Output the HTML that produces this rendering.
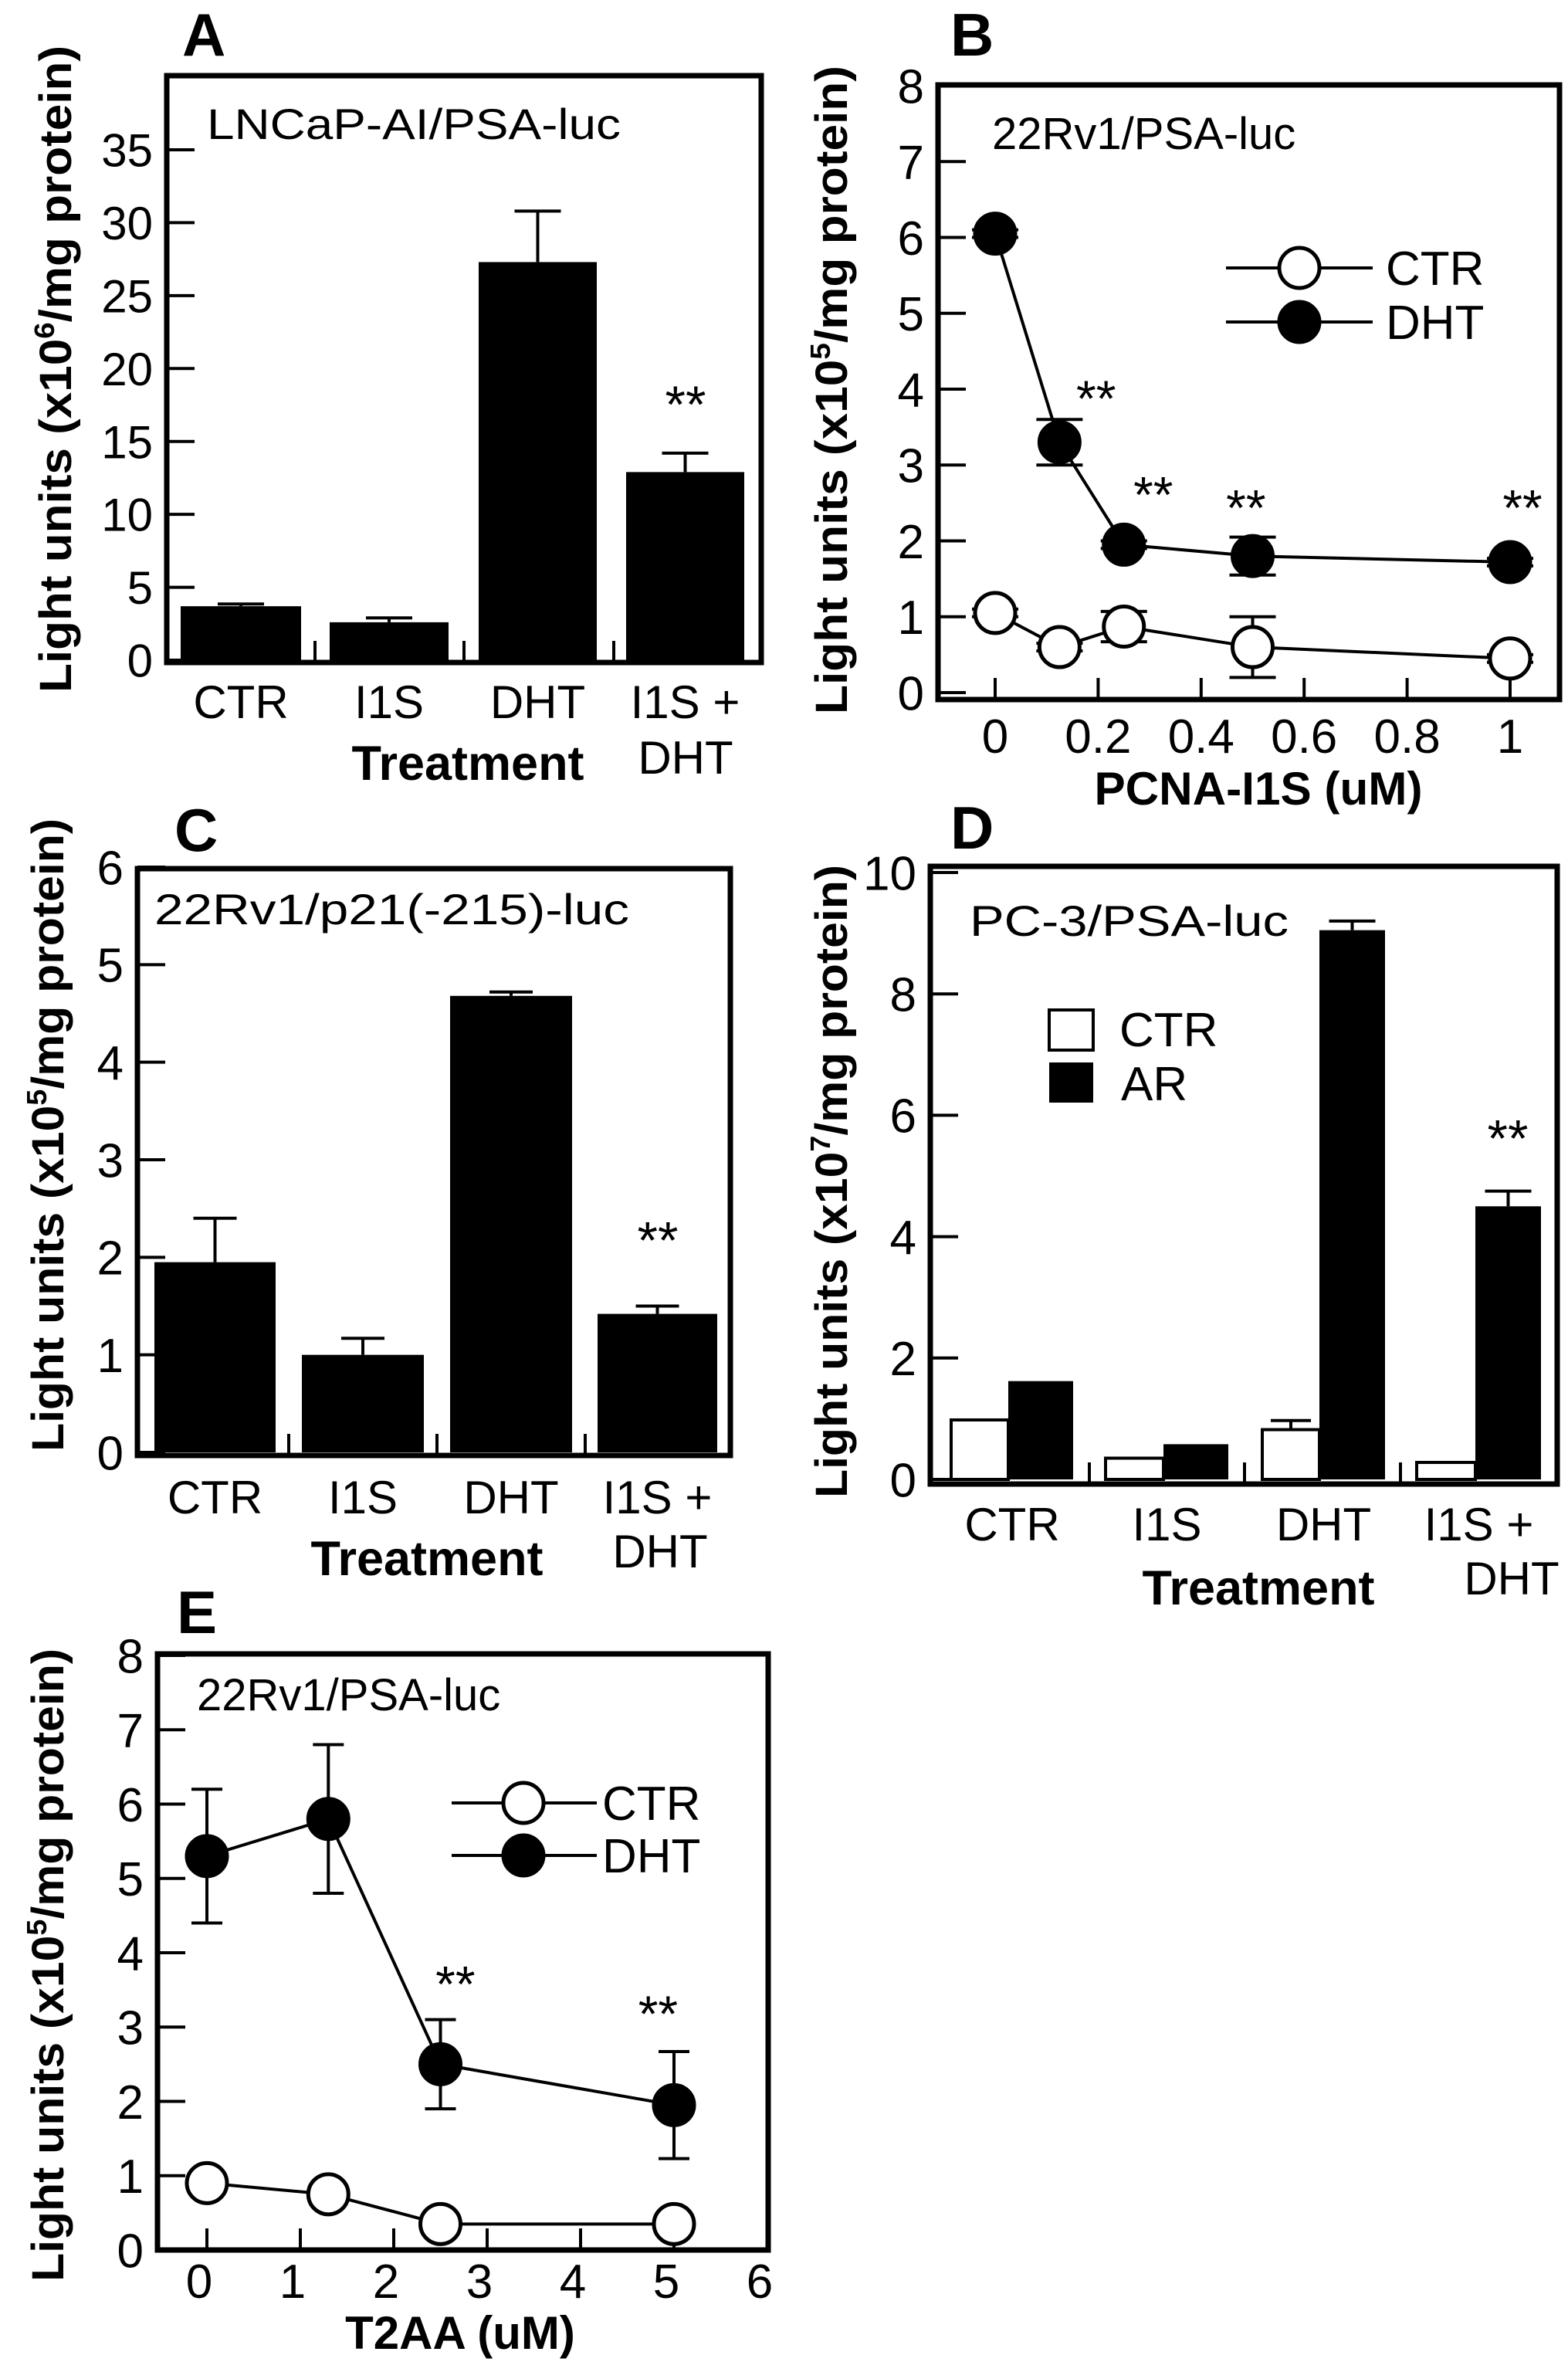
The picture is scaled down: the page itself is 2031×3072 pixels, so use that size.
<!DOCTYPE html>
<html><head><meta charset="utf-8">
<style>
html,body{margin:0;padding:0;background:#fff;}
svg{display:block;}
text{font-family:"Liberation Sans",Arial,sans-serif;fill:#000;}
.b{font-weight:bold;}
</style></head>
<body>
<svg id="fig" width="2031" height="3072" viewBox="0 0 2031 3072" xmlns="http://www.w3.org/2000/svg"></svg>
<script>
// ---- Panel A data ----
const aCats = ["CTR","I1S","DHT","I1S +"];
const aVals = [3.7, 2.6, 27.3, 12.9];
const aErr  = [0.15, 0.3, 3.5, 1.3];
const aTicks = [0,5,10,15,20,25,30,35];
// ---- Panel B data ----
const bX = [0, 0.125, 0.25, 0.5, 1];
const bDht = [6.05, 3.3, 1.95, 1.8, 1.72];
const bDhtErr = [0.05, 0.3, 0.05, 0.25, 0.05];
const bCtr = [1.05, 0.6, 0.87, 0.6, 0.45];
const bCtrErr = [0.05, 0.05, 0.2, 0.4, 0.05];
const bYTicks = [0,1,2,3,4,5,6,7,8];
const bXTicks = [0,0.2,0.4,0.6,0.8,1];
const bXLabels = ["0","0.2","0.4","0.6","0.8","1"];
const bStarX = [0.196, 0.307, 0.487, 1.024];
const bStarY = [3.9, 2.63, 2.46, 2.46];
// ---- Panel C data ----
const cCats = ["CTR","I1S","DHT","I1S +"];
const cVals = [1.95, 1.0, 4.68, 1.42];
const cErr  = [0.45, 0.17, 0.04, 0.08];
const cTicks = [0,1,2,3,4,5,6];
// ---- Panel D data ----
const dCats = ["CTR","I1S","DHT","I1S +"];
const dCtr = [0.98, 0.35, 0.82, 0.28];
const dCtrErr = [0, 0, 0.15, 0];
const dAr = [1.62, 0.58, 9.05, 4.5];
const dArErr = [0, 0, 0.15, 0.25];
const dTicks = [0,2,4,6,8,10];
// ---- Panel E data ----
const eX = [0, 1.3, 2.5, 5];
const eDht = [5.3, 5.8, 2.5, 1.95];
const eDhtErr = [0.9, 1.0, 0.6, 0.72];
const eCtr = [0.9, 0.75, 0.35, 0.35];
const eCtrErr = [0.1, 0.05, 0.05, 0.05];
const eYTicks = [0,1,2,3,4,5,6,7,8];
const eXTicks = [0,1,2,3,4,5,6];
const eStarX = [2.66, 4.83];
const eStarY = [3.6, 3.2];

const NS = "http://www.w3.org/2000/svg";
const svg = document.getElementById("fig");
function mk(tag, attrs, parent, txt){
  const e = document.createElementNS(NS, tag);
  for (const k in attrs) e.setAttribute(k, attrs[k]);
  if (txt !== undefined) e.textContent = txt;
  (parent || svg).appendChild(e);
  return e;
}
function grp(name){
  const g = mk("g", {});
  
  
  return g;
}
function lin(a,b){ return v => a[0] + (v - b[0]) * (a[1]-a[0])/(b[1]-b[0]); }

function frame(g, L,T,R,B){
  const r = mk("rect",{x:L,y:T,width:R-L,height:B-T,fill:"none",stroke:"#000","stroke-width":7},g);
  
  
}
function yAxis(g, L, ys, ticks, labels, fs){
  ticks.forEach((t,i)=>{
    const l = mk("line",{x1:L,x2:L+36,y1:ys(t),y2:ys(t),stroke:"#000","stroke-width":4},g);
    
    
    const tx = mk("text",{x:L-18,y:ys(t),"text-anchor":"end",dy:"0.36em","font-size":fs},g,labels?labels[i]:String(t));
    
    
  });
}
function yTitle(g, cx, cy, len, sup){
  const t = mk("text",{transform:`translate(${cx},${cy}) rotate(-90)`,"text-anchor":"middle","font-size":58,class:"b",textLength:len,lengthAdjust:"spacingAndGlyphs"},g);
  
  
  mk("tspan",{},t,"Light units (x10");
  mk("tspan",{"font-size":36,dy:-22},t,sup);
  mk("tspan",{dy:22},t,"/mg protein)");
}
function txt(g, x, y, s, fs, name, opts){
  const t = mk("text", Object.assign({x:x,y:y,"font-size":fs}, opts||{}), g, s);
  
  
  return t;
}
function errBar(g, x, y1, y2, hw, name){
  mk("line",{x1:x,x2:x,y1:y1,y2:y2,stroke:"#000","stroke-width":4},g);
  const c = mk("line",{x1:x-hw,x2:x+hw,y1:y2,y2:y2,stroke:"#000","stroke-width":4},g);
  
  
}
function errBoth(g, x, ylo, yhi, hw){
  mk("line",{x1:x,x2:x,y1:ylo,y2:yhi,stroke:"#000","stroke-width":4},g);
  mk("line",{x1:x-hw,x2:x+hw,y1:ylo,y2:ylo,stroke:"#000","stroke-width":4},g);
  mk("line",{x1:x-hw,x2:x+hw,y1:yhi,y2:yhi,stroke:"#000","stroke-width":4},g);
}
function marker(g, x, y, filled, name){
  const c = mk("circle",{cx:x,cy:y,r:26,fill:filled?"#000":"#fff",stroke:"#000","stroke-width":5},g);
  
  
}
function polyline(g, xs, ys, X, Y, name){
  const p = mk("polyline",{points:X.map((v,i)=>xs(v)+","+ys(Y[i])).join(" "),fill:"none",stroke:"#000","stroke-width":4},g);
  
  
}

// ===== Panel A =====
(function(){
  const g = grp("panel-a");
  const L=216,T=98,R=986,B=858;
  const ys = lin([855,194],[0,35]);
  const bx = [[234,390],[427,581],[620,773],[811,964]];
  aVals.forEach((v,i)=>{
    const r = mk("rect",{x:bx[i][0],y:ys(v),width:bx[i][1]-bx[i][0],height:ys(0)-ys(v),fill:"#000"},g);
    
    
    errBar(g,(bx[i][0]+bx[i][1])/2, ys(v), ys(v+aErr[i]), 30, 'error-bar');
    const c = (bx[i][0]+bx[i][1])/2;
    txt(g,c,930,aCats[i],60,'x-category-label',{"text-anchor":"middle"});
  });
  [408,601,795].forEach(x=>mk("line",{x1:x,x2:x,y1:B,y2:B-28,stroke:"#000","stroke-width":4},g));
  frame(g,L,T,R,B);
  yAxis(g,L,ys,aTicks,null,60);
  txt(g,888,1002,"DHT",60,'x-category-label',{"text-anchor":"middle"});
  txt(g,606,1010,"Treatment",63,'x-axis-title',{"text-anchor":"middle",class:"b"});
  txt(g,268,180,"LNCaP-AI/PSA-luc",56,'cell-line-label',{textLength:536,lengthAdjust:"spacingAndGlyphs"});
  txt(g,888,ys(aVals[3]+aErr[3])-40,"**",68,'significance-marker',{"text-anchor":"middle"});
  txt(g,236,72,"A",78,'panel-label',{class:"b"});
  yTitle(g,92,478,838,"6");
})();

// ===== Panel B =====
(function(){
  const g = grp("panel-b");
  const L=1215,T=110,R=2020,B=906;
  const ys = lin([897,111],[0,8]);
  const xs = lin([1289,1956],[0,1]);
  frame(g,L,T,R,B);
  yAxis(g,L,ys,bYTicks,null,62);
  bXTicks.forEach((t,i)=>{
    mk("line",{x1:xs(t),x2:xs(t),y1:B,y2:B-28,stroke:"#000","stroke-width":4},g);
    txt(g,xs(t),975,bXLabels[i],62,'x-tick-label',{"text-anchor":"middle"});
  });
  polyline(g,xs,ys,bX,bCtr,'ctr-line');
  polyline(g,xs,ys,bX,bDht,'dht-line');
  bX.forEach((x,i)=>{
    errBoth(g,xs(x),ys(bCtr[i]-bCtrErr[i]),ys(bCtr[i]+bCtrErr[i]),30);
    errBoth(g,xs(x),ys(bDht[i]-bDhtErr[i]),ys(bDht[i]+bDhtErr[i]),30);
  });
  bX.forEach((x,i)=>{
    marker(g,xs(x),ys(bCtr[i]),false,'ctr-point');
    marker(g,xs(x),ys(bDht[i]),true,'dht-point');
  });
  bStarX.forEach((x,i)=>txt(g,xs(x),ys(bStarY[i])+25,"**",66,'significance-marker',{"text-anchor":"middle"}));
  const lg = grp("legend");
  [[347,false,"CTR"],[417,true,"DHT"]].forEach(([y,f,s])=>{
    mk("line",{x1:1588,x2:1778,y1:y,y2:y,stroke:"#000","stroke-width":4},lg);
    marker(lg,1683,y,f,'legend-marker');
    txt(lg,1795,y+22,s,62,'legend-entry');
  });
  txt(g,1285,193,"22Rv1/PSA-luc",58,'cell-line-label');
  txt(g,1630,1042,"PCNA-I1S (uM)",60,'x-axis-title',{"text-anchor":"middle",class:"b",textLength:425,lengthAdjust:"spacingAndGlyphs"});
  txt(g,1231,72,"B",78,'panel-label',{class:"b"});
  yTitle(g,1097,505,840,"5");
})();

// ===== Panel C =====
(function(){
  const g = grp("panel-c");
  const L=178,T=1125,R=946,B=1885;
  const ys = lin([1881,1123],[0,6]);
  const bx = [[200,357],[391,549],[583,741],[774,929]];
  cVals.forEach((v,i)=>{
    const r = mk("rect",{x:bx[i][0],y:ys(v),width:bx[i][1]-bx[i][0],height:ys(0)-ys(v),fill:"#000"},g);
    
    
    errBar(g,(bx[i][0]+bx[i][1])/2, ys(v), ys(v+cErr[i]), 28, 'error-bar');
    txt(g,(bx[i][0]+bx[i][1])/2,1960,cCats[i],60,'x-category-label',{"text-anchor":"middle"});
  });
  [374,566,758].forEach(x=>mk("line",{x1:x,x2:x,y1:B,y2:B-28,stroke:"#000","stroke-width":4},g));
  frame(g,L,T,R,B);
  yAxis(g,L,ys,cTicks,null,62);
  txt(g,855,2030,"DHT",60,'x-category-label',{"text-anchor":"middle"});
  txt(g,553,2040,"Treatment",63,'x-axis-title',{"text-anchor":"middle",class:"b"});
  txt(g,200,1197,"22Rv1/p21(-215)-luc",56,'cell-line-label',{textLength:615,lengthAdjust:"spacingAndGlyphs"});
  txt(g,852,ys(cVals[3]+cErr[3])-62,"**",68,'significance-marker',{"text-anchor":"middle"});
  txt(g,226,1102,"C",78,'panel-label',{class:"b"});
  yTitle(g,82,1470,820,"5");
})();

// ===== Panel D =====
(function(){
  const g = grp("panel-d");
  const L=1205,T=1122,R=2017,B=1922;
  const ys = lin([1916,1130],[0,10]);
  const groups = [[1232,1306,1390],[1432,1507,1591],[1635,1709,1794],[1835,1911,1996]];
  dCats.forEach((c,i)=>{
    const [a,m,b] = groups[i];
    const w = mk("rect",{x:a,y:ys(dCtr[i]),width:m-a,height:ys(0)-ys(dCtr[i]),fill:"#fff",stroke:"#000","stroke-width":4},g);
    
    
    if (dCtrErr[i]>0) errBar(g,(a+m)/2,ys(dCtr[i]),ys(dCtr[i]+dCtrErr[i]),26,'error-bar');
    const k = mk("rect",{x:m,y:ys(dAr[i]),width:b-m,height:ys(0)-ys(dAr[i]),fill:"#000"},g);
    
    
    if (dArErr[i]>0) errBar(g,(m+b)/2,ys(dAr[i]),ys(dAr[i]+dArErr[i]),30,'error-bar');
    txt(g,(a+b)/2,1995,c,60,'x-category-label',{"text-anchor":"middle"});
  });
  [1411,1612,1814].forEach(x=>mk("line",{x1:x,x2:x,y1:B,y2:B-28,stroke:"#000","stroke-width":4},g));
  frame(g,L,T,R,B);
  yAxis(g,L,ys,dTicks,null,62);
  const lg = grp("legend");
  const r1 = mk("rect",{x:1359,y:1308,width:57,height:52,fill:"#fff",stroke:"#000","stroke-width":4},lg);
  
  
  const r2 = mk("rect",{x:1359,y:1376,width:57,height:52,fill:"#000"},lg);
  
  
  txt(lg,1450,1355,"CTR",62,'legend-entry');
  txt(lg,1452,1425,"AR",62,'legend-entry');
  txt(g,1958,2065,"DHT",60,'x-category-label',{"text-anchor":"middle"});
  txt(g,1630,2078,"Treatment",63,'x-axis-title',{"text-anchor":"middle",class:"b"});
  txt(g,1256,1212,"PC-3/PSA-luc",56,'cell-line-label',{textLength:413,lengthAdjust:"spacingAndGlyphs"});
  txt(g,1953,ys(dAr[3]+dArErr[3])-45,"**",68,'significance-marker',{"text-anchor":"middle"});
  txt(g,1231,1099,"D",78,'panel-label',{class:"b"});
  yTitle(g,1097,1530,820,"7");
})();

// ===== Panel E =====
(function(){
  const g = grp("panel-e");
  const L=204,T=2142,R=995,B=2914;
  const ys = lin([2914,2144],[0,8]);
  const xs = lin([268,389],[0,1]);
  frame(g,L,T,R,B);
  yAxis(g,L,ys,eYTicks,null,62);
  eXTicks.forEach(t=>{
    mk("line",{x1:xs(t),x2:xs(t),y1:B,y2:B-28,stroke:"#000","stroke-width":4},g);
    txt(g,xs(t)-10,2976,String(t),62,'x-tick-label',{"text-anchor":"middle"});
  });
  polyline(g,xs,ys,eX,eCtr,'ctr-line');
  polyline(g,xs,ys,eX,eDht,'dht-line');
  eX.forEach((x,i)=>{
    errBoth(g,xs(x),ys(eCtr[i]-eCtrErr[i]),ys(eCtr[i]+eCtrErr[i]),20);
    errBoth(g,xs(x),ys(eDht[i]-eDhtErr[i]),ys(eDht[i]+eDhtErr[i]),20);
  });
  eX.forEach((x,i)=>{
    marker(g,xs(x),ys(eCtr[i]),false,'ctr-point');
    marker(g,xs(x),ys(eDht[i]),true,'dht-point');
  });
  eStarX.forEach((x,i)=>txt(g,xs(x),ys(eStarY[i])+25,"**",66,'significance-marker',{"text-anchor":"middle"}));
  const lg = grp("legend");
  [[2335,false,"CTR"],[2403,true,"DHT"]].forEach(([y,f,s])=>{
    mk("line",{x1:585,x2:773,y1:y,y2:y,stroke:"#000","stroke-width":4},lg);
    marker(lg,678,y,f,'legend-marker');
    txt(lg,780,y+22,s,62,'legend-entry');
  });
  txt(g,255,2215,"22Rv1/PSA-luc",58,'cell-line-label');
  txt(g,596,3042,"T2AA (uM)",60,'x-axis-title',{"text-anchor":"middle",class:"b"});
  txt(g,229,2115,"E",78,'panel-label',{class:"b"});
  yTitle(g,82,2545,820,"5");
})();
</script>
</body></html>
